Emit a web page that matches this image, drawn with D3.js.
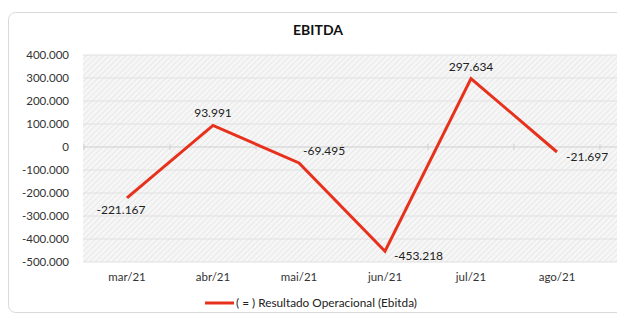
<!DOCTYPE html>
<html><head><meta charset="utf-8">
<script src="https://cdn.jsdelivr.net/npm/d3@7"></script>
<style>body{margin:0;background:#fff}svg{display:block}text{font-family:Lato,"Open Sans",sans-serif}</style>
</head><body>
<svg id="c" width="617" height="316"></svg>
<script>
const categories = ["mar/21","abr/21","mai/21","jun/21","jul/21","ago/21"];
const values = [-221167, 93991, -69495, -453218, 297634, -21697];
const tickValues = [400000,300000,200000,100000,0,-100000,-200000,-300000,-400000,-500000];
const labelPlacement = ["below","above","aboveRight","right","above","right"];
const seriesName = "( = ) Resultado Operacional (Ebitda)";
const title = "EBITDA";

const svg = d3.select("#c");
const fmt = v => d3.format(",.0f")(v).replace(/,/g,".").replace("−","-");
const defs = svg.append("defs");
const pat = defs.append("pattern").attr("id","hatch").attr("patternUnits","userSpaceOnUse")
  .attr("width",4).attr("height",4).attr("patternTransform","rotate(45)");
pat.append("rect").attr("width",4).attr("height",4).attr("fill","#f6f6f6");
pat.append("line").attr("x1",0).attr("y1",0).attr("x2",0).attr("y2",4).attr("stroke","#e4e4e4").attr("stroke-width",1.5);

svg.append("rect").attr("x",8.5).attr("y",12.5).attr("width",640).attr("height",300).attr("rx",7)
  .attr("fill","#fff").attr("stroke","#d9d9d9");

svg.append("text").attr("x",318).attr("y",35).attr("text-anchor","middle")
  .attr("font-size",14).attr("font-weight","bold").attr("fill","#111").text(title);

const x = d3.scaleBand().domain(categories).range([84,600]);
const y = d3.scaleLinear().domain([-500000,400000]).range([262,55]);

svg.append("rect").attr("x",83).attr("y",55).attr("width",540).attr("height",207).attr("fill","url(#hatch)");

svg.append("g").selectAll("line").data(tickValues).join("line")
  .attr("x1",83).attr("x2",617).attr("y1",d=>y(d)).attr("y2",d=>y(d))
  .attr("stroke",d=>d===0?"#cfcfcf":"#e0e0e0").attr("stroke-width",1);

// zero-line tick marks at category boundaries
svg.append("g").selectAll("line").data(categories.concat(["_end"])).join("line")
  .attr("x1",(d,i)=>84+i*x.step()).attr("x2",(d,i)=>84+i*x.step())
  .attr("y1",y(0)-3).attr("y2",y(0)+3).attr("stroke","#cfcfcf");

const yAxis = svg.append("g").attr("transform","translate(80,0)")
  .call(d3.axisLeft(y).tickValues(tickValues).tickSize(0).tickPadding(11).tickFormat(fmt));
yAxis.select(".domain").remove();
yAxis.selectAll("text").attr("font-size",11.5).attr("fill","#333").attr("font-family","Lato,sans-serif");

const xAxis = svg.append("g").attr("transform","translate(0,262)")
  .call(d3.axisBottom(x).tickSize(0).tickPadding(11));
xAxis.select(".domain").remove();
xAxis.selectAll("text").attr("font-size",11.5).attr("fill","#333").attr("font-family","Lato,sans-serif");

const line = d3.line().x((d,i)=>x(categories[i])+x.bandwidth()/2).y(d=>y(d));
svg.append("path").datum(values).attr("d",line).attr("fill","none")
  .attr("stroke","#e8311c").attr("stroke-width",3).attr("stroke-linejoin","miter");

svg.append("g").selectAll("text").data(values).join("text")
  .attr("font-size",12).attr("fill","#222")
  .attr("x",(d,i)=>{const cx=x(categories[i])+x.bandwidth()/2;const p=labelPlacement[i];
    return p==="right"?cx+9:p==="aboveRight"?cx+4:p==="below"?cx-6:cx;})
  .attr("y",(d,i)=>{const cy=y(d);const p=labelPlacement[i];
    return p==="above"?cy-8:p==="aboveRight"?cy-8:p==="below"?cy+16:cy+9;})
  .attr("text-anchor",(d,i)=>{const p=labelPlacement[i];return p==="right"||p==="aboveRight"?"start":"middle";})
  .text(d=>fmt(d));

const lg = svg.append("g");
lg.append("line").attr("x1",205).attr("x2",234).attr("y1",303).attr("y2",303).attr("stroke","#e8311c").attr("stroke-width",3);
lg.append("text").attr("x",236).attr("y",307).attr("font-size",11.8).attr("fill","#222").text(seriesName);
</script>
</body></html>
